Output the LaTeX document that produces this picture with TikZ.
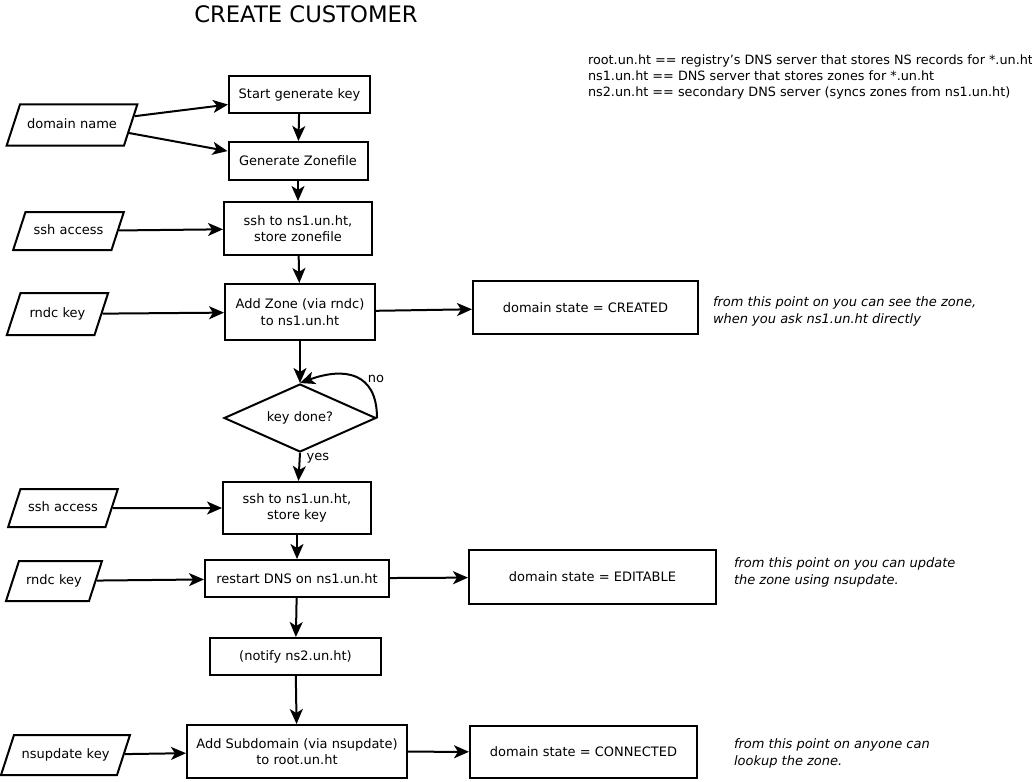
\documentclass[tikz,border=0pt]{standalone}
\usepackage{fontspec}
\setmainfont{DejaVu Sans}
\usetikzlibrary{arrows.meta,shapes.geometric}

\tikzset{
    base/.style={font=\fontsize{13}{16.5}\selectfont, align=center, inner sep=0pt},
    process/.style={base, draw, rectangle},
    inputbox/.style={base, draw, trapezium, trapezium left angle=72, trapezium right angle=108,
        text height=10pt, text depth=3pt, inner xsep=0pt},
    decision/.style={base, draw, diamond, aspect=2.2},
    note/.style={font=\fontsize{13}{16.5}\selectfont\itshape, align=left, inner sep=0pt, anchor=west},
    flow/.style={->, line width=2pt},
}

\begin{document}
\begin{tikzpicture}[x=1pt, y=-1pt, line width=2pt, >={Stealth[length=15pt, width=13pt, inset=4pt]}]
        % 画布
        \useasboundingbox (0, 0) rectangle (1032, 781);

        \node[base, font=\fontsize{22.7}{26}\selectfont] (title) at (306, 14) {CREATE CUSTOMER};
        \node[base, anchor=west, align=left, font=\fontsize{12.8}{16}\selectfont] (legend) at (587, 76.5) {root.un.ht == registry's DNS server that stores NS records for *.un.ht\\
            ns1.un.ht == DNS server that stores zones for *.un.ht\\
            ns2.un.ht == secondary DNS server (syncs zones from ns1.un.ht)};

        % 流程
        \node[process, minimum width=141pt, minimum height=37pt] (startkey) at (299.5, 94.5) {Start generate key};
        \node[process, minimum width=139pt, minimum height=38pt] (genzone) at (298, 161) {Generate Zonefile};
        \node[process, minimum width=148pt, minimum height=53pt] (sshzone) at (298, 228.5) {ssh to ns1.un.ht,\\ store zonefile};
        \node[process, minimum width=150pt, minimum height=56pt] (addzone) at (300, 312) {Add Zone (via rndc)\\ to ns1.un.ht};
        \node[decision, minimum width=152pt, minimum height=68pt] (keydone) at (300, 418) {key done?};
        \node[process, minimum width=148pt, minimum height=52pt] (sshkey) at (297, 508) {ssh to ns1.un.ht,\\ store key};
        \node[process, minimum width=184pt, minimum height=37pt] (restart) at (297, 578.5) {restart DNS on ns1.un.ht};
        \node[process, minimum width=171pt, minimum height=37pt] (notify) at (295.5, 656.5) {(notify ns2.un.ht)};
        \node[process, minimum width=220pt, minimum height=53pt] (addsub) at (297, 751.5) {Add Subdomain (via nsupdate)\\ to root.un.ht};

        % 状态
        \node[process, minimum width=225pt, minimum height=53pt] (created) at (585.5, 307.5) {domain state = CREATED};
        \node[process, minimum width=247pt, minimum height=54pt] (editable) at (592.5, 577) {domain state = EDITABLE};
        \node[process, minimum width=227pt, minimum height=52pt] (connected) at (583.5, 752) {domain state = CONNECTED};

        \node[note] (notecreated) at (712, 311.5) {from this point on you can see the zone,\\ when you ask ns1.un.ht directly};
        \node[note] (noteeditable) at (733, 572.5) {from this point on you can update\\ the zone using nsupdate.};
        \node[note] (noteconnected) at (733, 753.5) {from this point on anyone can\\ lookup the zone.};

        % 输入
        \node[inputbox, text width=104pt, inner ysep=14pt] (dname) at (72, 125) {domain name};
        \node[inputbox, text width=86pt, inner ysep=12.5pt] (sshone) at (68.5, 231) {ssh access};
        \node[inputbox, text width=74pt, inner ysep=14.5pt] (rndcone) at (57.5, 314) {rndc key};
        \node[inputbox, text width=85pt, inner ysep=12.5pt] (sshtwo) at (63, 508) {ssh access};
        \node[inputbox, text width=70pt, inner ysep=13.5pt] (rndctwo) at (54, 581) {rndc key};
        \node[inputbox, text width=103pt, inner ysep=13.5pt] (nsupd) at (65.5, 755) {nsupdate key};

        % 连线
        \draw[flow] (dname.8) -- (startkey.188);
        \draw[flow] (dname.-8) -- (genzone.172);
        \draw[flow] (startkey) -- (genzone);
        \draw[flow] (genzone) -- (sshzone);
        \draw[flow] (sshone) -- (sshzone);
        \draw[flow] (sshzone) -- (addzone);
        \draw[flow] (rndcone) -- (addzone);
        \draw[flow] (addzone) -- (created);
        \draw[flow] (addzone) -- (keydone.north);
        \draw[flow] (keydone.east) to[out=90, in=20, looseness=1.4] (keydone.north);
        \node[base] (no) at (376, 379) {no};
        \draw[flow] (keydone.south) -- node[base, right=6pt, pos=0.2] (yes) {yes} (sshkey);
        \draw[flow] (sshtwo) -- (sshkey);
        \draw[flow] (sshkey) -- (restart);
        \draw[flow] (rndctwo) -- (restart);
        \draw[flow] (restart) -- (editable);
        \draw[flow] (restart) -- (notify);
        \draw[flow] (notify) -- (addsub);
        \draw[flow] (nsupd) -- (addsub);
        \draw[flow] (addsub) -- (connected);
    \end{tikzpicture}
\end{document}
